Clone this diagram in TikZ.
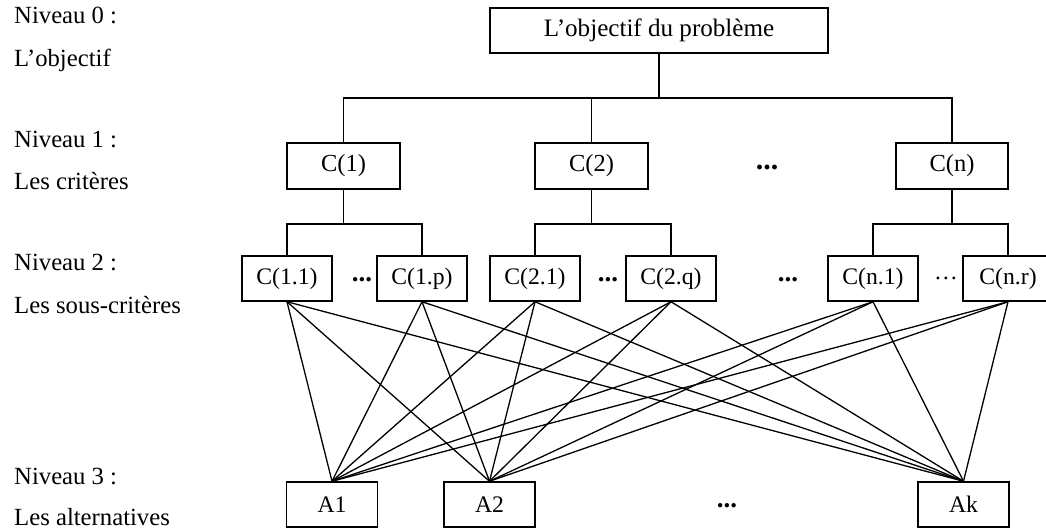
\documentclass[tikz,border=0pt]{standalone}
\usepackage{fontspec}
\setmainfont{Liberation Serif}
\begin{document}
\begin{tikzpicture}[x=1pt,y=-1pt,
  box/.style={draw,line width=1.5pt,inner sep=0pt,font=\fontsize{24.5}{28}\selectfont},
  subbox/.style={draw,line width=1.5pt,inner sep=0pt,minimum width=90pt,minimum height=45pt,font=\fontsize{23.7}{27}\selectfont},
  altbox/.style={draw,line width=1.5pt,inner sep=0pt,minimum width=91pt,minimum height=45pt,font=\fontsize{23.7}{27}\selectfont},
  lbl/.style={anchor=base west,inner sep=0pt,font=\fontsize{24.7}{28}\selectfont},
  dots/.style={inner sep=0pt,font=\fontsize{27}{30}\selectfont\bfseries},
  conn/.style={line width=1.3pt}]
\useasboundingbox (0,0) rectangle (1046,529);
\clip (0,0) rectangle (1046,529);
% left labels
\node[lbl] (l0a) at (14,24) {Niveau 0 :};
\node[lbl] (l0b) at (14,66.5) {L’objectif};
\node[lbl] (l1a) at (14,148) {Niveau 1 :};
\node[lbl] (l1b) at (14,190) {Les critères};
\node[lbl] (l2a) at (14,270) {Niveau 2 :};
\node[lbl] (l2b) at (14,313) {Les sous-critères};
\node[lbl] (l3a) at (14,484) {Niveau 3 :};
\node[lbl] (l3b) at (14,525) {Les alternatives};
% top
\node[box,minimum width=338pt,minimum height=45pt,font=\fontsize{25.1}{28}\selectfont] (top) at (659,30.5) {L’objectif du problème};
% criteria
\node[box,minimum width=113pt,minimum height=46pt] (c1) at (343.5,166) {C(1)};
\node[box,minimum width=113pt,minimum height=46pt] (c2) at (591.5,166) {C(2)};
\node[box,minimum width=112pt,minimum height=46pt] (cn) at (952,166) {C(n)};
\node[dots,font=\fontsize{30}{32}\selectfont\bfseries] (d1) at (767,167) {...};
% subcriteria
\node[subbox] (s11) at (287,278.5) {C(1.1)};
\node[subbox] (s1p) at (422,278.5) {C(1.p)};
\node[subbox] (s21) at (535,278.5) {C(2.1)};
\node[subbox] (s2q) at (671,278.5) {C(2.q)};
\node[subbox] (sn1) at (873,278.5) {C(n.1)};
\node[subbox] (snr) at (1008,278.5) {C(n.r)};
\node[dots] (d2) at (362,280) {...};
\node[dots] (d3) at (608,280) {...};
\node[dots] (d4) at (788,280) {...};
\node[inner sep=0pt,font=\fontsize{23.7}{27}\selectfont] (d5) at (946,278) {\ldots};
% alternatives
\node[altbox] (a1) at (332,504.5) {A1};
\node[altbox] (a2) at (489.5,504.5) {A2};
\node[altbox] (ak) at (963.5,504.5) {Ak};
\node[dots] (d6) at (727,506) {...};
% tree connectors
\coordinate (bar0) at (0,98);
\coordinate (bar1) at (0,224);
\draw[conn] (top.south) -- (top.south |- bar0);
\draw[conn] (c1.north) -- (c1.north |- bar0) -- (cn.north |- bar0) -- (cn.north);
\draw[conn] (c2.north) -- (c2.north |- bar0);
\draw[conn] (c1.south) -- (c1.south |- bar1);
\draw[conn] (s11.north) -- (s11.north |- bar1) -- (s1p.north |- bar1) -- (s1p.north);
\draw[conn] (c2.south) -- (c2.south |- bar1);
\draw[conn] (s21.north) -- (s21.north |- bar1) -- (s2q.north |- bar1) -- (s2q.north);
\draw[conn] (cn.south) -- (cn.south |- bar1);
\draw[conn] (sn1.north) -- (sn1.north |- bar1) -- (snr.north |- bar1) -- (snr.north);
% subcriteria to alternatives
\foreach \s in {s11,s1p,s21,s2q,sn1,snr}{
  \foreach \a in {a1,a2,ak}{
    \draw[conn] (\s.south) -- (\a.north);
  }
}
\end{tikzpicture}
\end{document}
